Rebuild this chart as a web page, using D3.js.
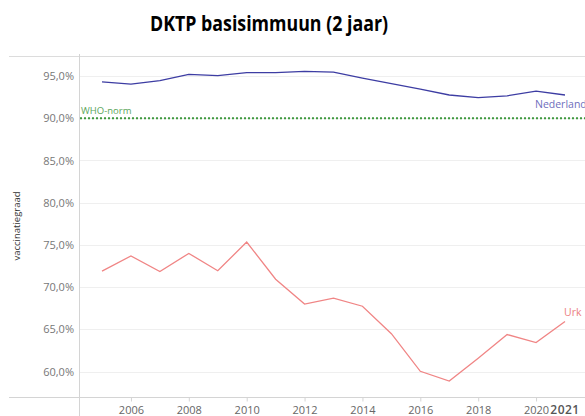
<!DOCTYPE html>
<html>
<head>
<meta charset="utf-8">
<script src="https://cdn.jsdelivr.net/npm/d3@7"></script>
<style>
  body { margin: 0; background: #fff; }
  svg { display: block; }
</style>
</head>
<body>
<div id="chart"></div>
<script>
const years = [2005, 2006, 2007, 2008, 2009, 2010, 2011, 2012, 2013, 2014, 2015, 2016, 2017, 2018, 2019, 2020, 2021];
const nederland = [94.3, 94.05, 94.45, 95.2, 95.05, 95.4, 95.4, 95.55, 95.45, 94.75, 94.1, 93.45, 92.75, 92.45, 92.65, 93.2, 92.75];
const urk = [71.9, 73.7, 71.85, 74.0, 71.95, 75.35, 70.95, 68.0, 68.7, 67.75, 64.5, 60.05, 58.9, 61.6, 64.4, 63.45, 65.95];
const yTicks = [60, 65, 70, 75, 80, 85, 90, 95];
const xTicks = [2006, 2008, 2010, 2012, 2014, 2016, 2018, 2020];
const whoNorm = 90;

const W = 585, H = 416;
const axisX = 79, topY = 56, bottomY = 397;

const svg = d3.select("#chart").append("svg")
    .attr("width", W)
    .attr("height", H)
    .style("font-family", "'Open Sans', sans-serif");

const x = d3.scaleLinear().domain([2005, 2021]).range([102, 565]);
const y = d3.scaleLinear().domain([60, 95]).range([371.7, 76]);

// title
svg.append("text")
    .attr("x", 269)
    .attr("y", 31)
    .attr("text-anchor", "middle")
    .attr("textLength", 238)
    .attr("lengthAdjust", "spacingAndGlyphs")
    .style("font-size", "21px")
    .style("font-weight", "bold")
    .style("fill", "#000")
    .text("DKTP basisimmuun (2 jaar)");

// gridlines
svg.append("g")
    .selectAll("line")
    .data(yTicks)
    .enter()
    .append("line")
    .attr("x1", axisX)
    .attr("x2", W)
    .attr("y1", d => Math.round(y(d)) + 0.5)
    .attr("y2", d => Math.round(y(d)) + 0.5)
    .style("stroke", "#efefef")
    .style("stroke-width", 1);

// frame lines
svg.append("line").attr("x1", 9).attr("x2", W).attr("y1", topY + 0.5).attr("y2", topY + 0.5)
    .style("stroke", "#dcdcdc");
svg.append("line").attr("x1", 9).attr("x2", W).attr("y1", bottomY + 0.5).attr("y2", bottomY + 0.5)
    .style("stroke", "#d4d4d4");
svg.append("line").attr("x1", axisX + 0.5).attr("x2", axisX + 0.5).attr("y1", topY - 2).attr("y2", H)
    .style("stroke", "#d4d4d4");

// y axis
const yAxis = svg.append("g")
    .attr("transform", "translate(" + (axisX - 5) + ",0)")
    .call(d3.axisLeft(y).tickValues(yTicks).tickSize(0).tickPadding(0)
        .tickFormat(d => d.toFixed(1).replace(".", ",") + "%"));
yAxis.select(".domain").remove();
yAxis.selectAll("text")
    .style("font-family", "'Open Sans', sans-serif")
    .style("font-size", "11px")
    .style("fill", "#777");

// y axis label
svg.append("text")
    .attr("transform", "translate(20,226) rotate(-90)")
    .attr("text-anchor", "middle")
    .style("font-size", "9.5px")
    .style("fill", "#333")
    .text("vaccinatiegraad");

// x axis
const xAxis = svg.append("g")
    .attr("transform", "translate(0," + (bottomY + 0.5) + ")")
    .call(d3.axisBottom(x).tickValues(xTicks).tickSize(4).tickPadding(5).tickFormat(d3.format("d")));
xAxis.select(".domain").remove();
xAxis.selectAll("line").style("stroke", "#d4d4d4");
xAxis.selectAll("text")
    .style("font-family", "'Open Sans', sans-serif")
    .style("font-size", "11px")
    .style("fill", "#666");

// highlighted last year label
svg.append("text")
    .attr("x", x(2021))
    .attr("y", 414)
    .attr("text-anchor", "middle")
    .style("font-size", "12px")
    .style("font-weight", "600")
    .style("fill", "#555")
    .style("letter-spacing", "0.5px")
    .text("2021");

// WHO norm
svg.append("line")
    .attr("x1", axisX + 1)
    .attr("x2", W)
    .attr("y1", y(whoNorm))
    .attr("y2", y(whoNorm))
    .style("stroke", "#3f993f")
    .style("stroke-width", 2)
    .style("stroke-dasharray", "2,2");
svg.append("text")
    .attr("x", 81)
    .attr("y", y(whoNorm) - 4)
    .style("font-size", "9.5px")
    .style("fill", "#5aa55a")
    .text("WHO-norm");

const line = d3.line()
    .x((d, i) => x(years[i]))
    .y(d => y(d));

svg.append("path")
    .datum(nederland)
    .attr("d", line)
    .style("fill", "none")
    .style("stroke", "#3d3da3")
    .style("stroke-width", 1.3);

svg.append("path")
    .datum(urk)
    .attr("d", line)
    .style("fill", "none")
    .style("stroke", "#f08585")
    .style("stroke-width", 1.3);

svg.append("text")
    .attr("x", x(2021) - 30)
    .attr("y", y(nederland[nederland.length - 1]) + 13)
    .style("font-size", "10.5px")
    .style("fill", "#6e6ebd")
    .text("Nederland");

svg.append("text")
    .attr("x", x(2021) - 1)
    .attr("y", y(urk[urk.length - 1]) - 5)
    .style("font-size", "10.5px")
    .style("fill", "#ec7f7f")
    .text("Urk");
</script>
</body>
</html>
